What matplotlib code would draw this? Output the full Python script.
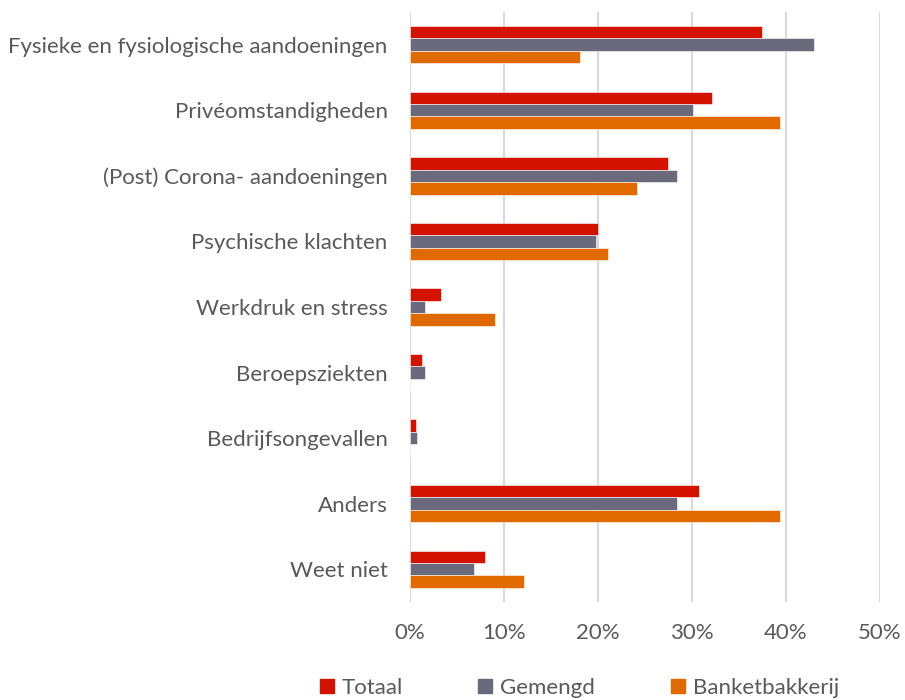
import matplotlib.pyplot as plt
from matplotlib.patches import Patch
import numpy as np

categories = [
    "Fysieke en fysiologische aandoeningen",
    "Privéomstandigheden",
    "(Post) Corona- aandoeningen",
    "Psychische klachten",
    "Werkdruk en stress",
    "Beroepsziekten",
    "Bedrijfsongevallen",
    "Anders",
    "Weet niet",
]
totaal = [37.5, 32.1, 27.5, 20.0, 3.3, 1.3, 0.6, 30.8, 8.0]
gemengd = [43.0, 30.1, 28.4, 19.8, 1.6, 1.6, 0.8, 28.4, 6.8]
banket = [18.1, 39.4, 24.2, 21.1, 9.0, 0.0, 0.0, 39.4, 12.1]
ticks = [0, 10, 20, 30, 40, 50]
tick_labels = ["0%", "10%", "20%", "30%", "40%", "50%"]

plt.rcParams["font.family"] = ["Lato", "DejaVu Sans"]
text_color = "#595959"

fig = plt.figure(figsize=(9.05, 7.0), dpi=100)
ax = fig.add_axes([0.453, 0.14, 0.519, 0.843])

y = np.arange(len(categories))
h = 0.19
series = [
    ("Totaal", totaal, "#D41200"),
    ("Gemengd", gemengd, "#6B6A7D"),
    ("Banketbakkerij", banket, "#E06900"),
]
for i, (name, vals, col) in enumerate(series):
    ax.barh(y + (i - 1) * h, vals, height=h, color=col, label=name,
            edgecolor="white", linewidth=0.4, zorder=3)

ax.set_xlim(0, 50)
ax.set_ylim(len(categories) - 0.5, -0.5)
ax.set_xticks(ticks)
ax.set_xticklabels(tick_labels)
ax.set_yticks(y)
ax.set_yticklabels(categories)
ax.tick_params(axis="both", length=0, labelsize=16, colors=text_color)
ax.tick_params(axis="x", pad=15)
ax.tick_params(axis="y", pad=16)
ax.grid(axis="x", color="#D9D9D9", linewidth=1.5, zorder=0)
for s in ax.spines.values():
    s.set_visible(False)

# legend entries placed one by one, like the spread-out Excel legend
legend_x = [320, 478, 671]
for (name, vals, col), lx in zip(series, legend_x):
    fig.legend(handles=[Patch(color=col, label=name)], loc="center left",
               bbox_to_anchor=(lx / 905, 1 - 688 / 700), frameon=False,
               fontsize=16, labelcolor=text_color, borderpad=0,
               borderaxespad=0, handlelength=0.63, handleheight=0.63,
               handletextpad=0.35)

fig.savefig("out.png", dpi=100)
